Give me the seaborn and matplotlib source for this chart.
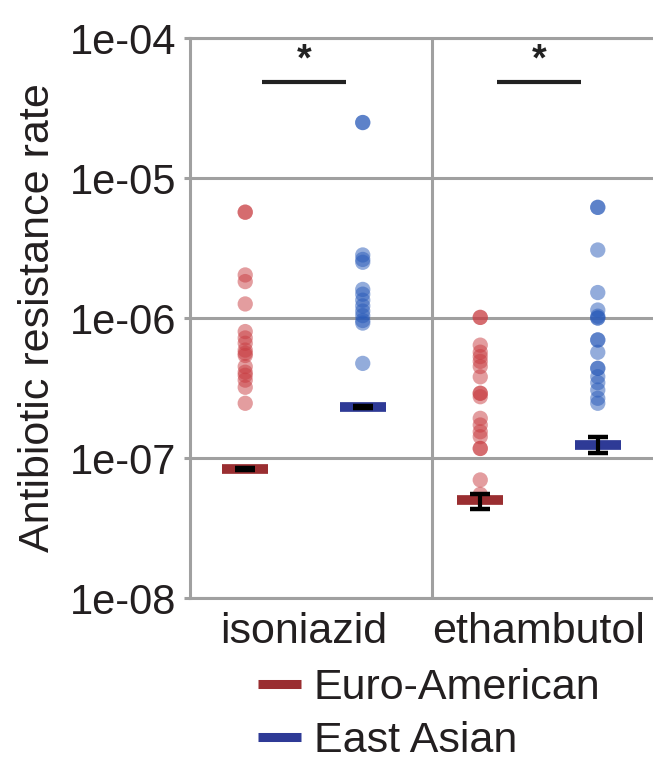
import numpy as np
import pandas as pd
import matplotlib
matplotlib.use("Agg")
import matplotlib.pyplot as plt
from matplotlib.lines import Line2D
import seaborn as sns

# Data
drugs = ['isoniazid', 'ethambutol']
lineages = ['Euro-American', 'East Asian']

iso_euro = [5.7e-6, 5.7e-6, 2.03e-6, 1.82e-6, 1.26e-6, 8.0e-7, 7.2e-7, 6.6e-7,
            5.9e-7, 5.6e-7, 5.4e-7, 4.5e-7, 4.1e-7, 3.9e-7, 3.6e-7, 3.2e-7, 2.46e-7]
iso_asian = [2.49e-5, 2.49e-5, 2.82e-6, 2.62e-6, 2.5e-6, 1.6e-6, 1.48e-6, 1.34e-6,
             1.22e-6, 1.12e-6, 1.04e-6, 9.6e-7, 9.2e-7, 4.74e-7]
eth_euro = [1.01e-6, 1.01e-6, 6.4e-7, 5.7e-7, 5.3e-7, 4.9e-7, 4.5e-7, 3.8e-7,
            2.9e-7, 2.9e-7, 2.74e-7, 1.92e-7, 1.72e-7, 1.54e-7, 1.42e-7, 1.17e-7,
            1.17e-7, 6.97e-8, 5.5e-8]
eth_asian = [6.17e-6, 6.17e-6, 3.06e-6, 1.52e-6, 1.14e-6, 1.03e-6, 1.0e-6, 1.0e-6,
             6.97e-7, 6.97e-7, 5.69e-7, 4.37e-7, 4.37e-7, 3.81e-7, 3.45e-7, 3.06e-7,
             2.67e-7, 2.46e-7]

# median bar with error range (lower, upper)
med = [8.3e-8, 2.31e-7, 5.0e-8, 1.24e-7]
med_lo = [8.17e-8, 2.27e-7, 4.33e-8, 1.09e-7]
med_hi = [8.44e-8, 2.35e-7, 5.57e-8, 1.41e-7]

ytick_vals = [1e-8, 1e-7, 1e-6, 1e-5, 1e-4]
ytick_labels = ['1e-08', '1e-07', '1e-06', '1e-05', '1e-04']

groups = ['iso_euro', 'iso_asian', 'eth_euro', 'eth_asian']
rows = []
for g, vals, lin in zip(groups, [iso_euro, iso_asian, eth_euro, eth_asian],
                        lineages * 2):
    for v in vals:
        rows.append({'group': g, 'lineage': lin, 'rate': v})
df = pd.DataFrame(rows)

pt_colors = {'Euro-American': '#c83c41', 'East Asian': '#285ab9'}
bar_colors = ['#9a2e31', '#2e3a96']
grid_col = '#a0a0a0'
txt_col = '#231f20'

sns.set_style("white")
plt.rcParams['font.family'] = ['Liberation Sans', 'DejaVu Sans']
plt.rcParams['text.color'] = txt_col
plt.rcParams['axes.labelcolor'] = txt_col
plt.rcParams['xtick.color'] = txt_col
plt.rcParams['ytick.color'] = txt_col

fig = plt.figure(figsize=(6.53, 7.6), dpi=100)
ax = fig.add_axes([190 / 653, 1 - 598 / 760, 1 - 190 / 653, 560 / 760])

sns.stripplot(data=df, x='group', y='rate', hue='lineage', order=groups,
              hue_order=lineages, palette=pt_colors, jitter=False, size=11,
              alpha=0.5, linewidth=0, legend=False, ax=ax, zorder=3)
ax.set_yscale('log')

# median bars + error bars
for i, (m, lo, hi) in enumerate(zip(med, med_lo, med_hi)):
    ax.hlines(m, i - 0.195, i + 0.195, color=bar_colors[i % 2], lw=7, zorder=4)
    ax.errorbar(i, m, yerr=[[m - lo], [hi - m]], fmt='none', ecolor='black',
                elinewidth=3, capsize=7, capthick=3.2, zorder=5)

ax.set_ylim(1e-8, 1e-4)
ax.set_xlim(-0.47, 3.47)
ax.yaxis.set_major_locator(matplotlib.ticker.FixedLocator(ytick_vals))
ax.yaxis.set_minor_locator(matplotlib.ticker.NullLocator())
ax.set_yticklabels(ytick_labels)
ax.grid(axis='y', color=grid_col, lw=2.2)
ax.grid(axis='x', visible=False)
ax.axvline(1.59, color=grid_col, lw=2.2, zorder=1)

for side in ['left', 'top', 'bottom']:
    ax.spines[side].set_color(grid_col)
    ax.spines[side].set_linewidth(2.2)
ax.spines['right'].set_visible(False)

ax.tick_params(axis='y', which='major', length=4, width=2.2, color=grid_col,
               labelcolor=txt_col, labelsize=30, pad=6, left=True)
ax.set_xticks([0.5, 2.5])
ax.set_xticklabels(drugs)
ax.tick_params(axis='x', length=0, labelsize=31, pad=10, labelcolor=txt_col)
ax.set_xlabel('')
ax.set_ylabel('Antibiotic resistance rate', fontsize=31, labelpad=8)

# significance markers
sig_y = 4.86e-5
for c in [0.5, 2.5]:
    ax.plot([c - 0.36, c + 0.36], [sig_y, sig_y], color='#222222', lw=3,
            solid_capstyle='butt', zorder=5)
    ax.text(c, sig_y * 1.06, '*', ha='center', va='bottom', fontsize=27,
            fontweight='bold', color='#222222')

handles = [Line2D([0], [0], color=c, lw=6.5, solid_capstyle='butt')
           for c in bar_colors]
fig.legend(handles, lineages, loc='upper left',
           bbox_to_anchor=(258 / 653, 1 - 668 / 760), frameon=False,
           fontsize=31, handlelength=1.0, handletextpad=0.3,
           labelspacing=0.3, borderpad=0, borderaxespad=0)

fig.savefig('out.png', dpi=100)
